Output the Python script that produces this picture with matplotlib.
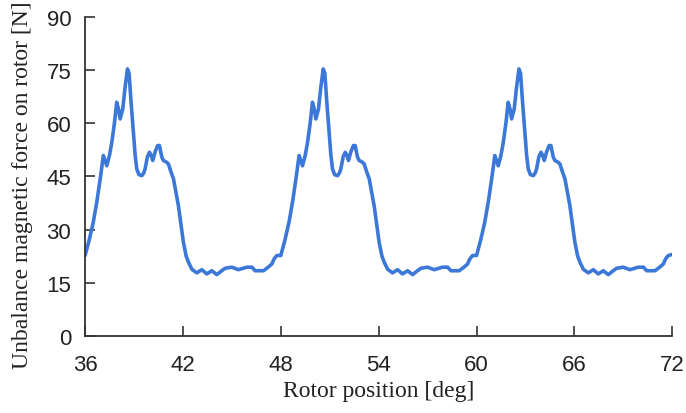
import matplotlib.pyplot as plt
import numpy as np

# one electrical period of the unbalance force, offsets in deg from period start
period_deg = [0.00, 0.25, 0.50, 0.72, 0.95, 1.12, 1.33, 1.50, 1.64, 1.80,
              1.94, 2.05, 2.15, 2.31, 2.45, 2.60, 2.70, 2.82, 2.96, 3.07,
              3.17, 3.30, 3.48, 3.60, 3.68, 3.82, 3.95, 4.05, 4.15, 4.30,
              4.45, 4.56, 4.70, 4.80, 5.00, 5.11, 5.25, 5.42, 5.72, 6.03,
              6.20, 6.34, 6.55, 6.85, 7.16, 7.46, 7.77, 8.08, 8.35, 8.59,
              9.00, 9.40, 9.92, 10.23, 10.43, 10.94, 11.20, 11.45, 11.60, 11.76]
period_force = [22.7, 27.0, 32.0, 37.8, 45.0, 50.9, 48.0, 51.0, 54.6, 60.0,
                65.9, 64.0, 61.2, 64.0, 70.0, 75.3, 74.0, 66.0, 57.5, 51.0,
                47.1, 45.5, 45.2, 46.0, 47.1, 50.5, 51.8, 51.0, 49.5, 52.0,
                53.7, 53.7, 50.5, 49.5, 49.0, 48.5, 46.5, 44.3, 36.8, 26.4,
                22.5, 20.8, 18.8, 17.8, 18.7, 17.5, 18.4, 17.3, 18.3, 19.1,
                19.4, 18.7, 19.4, 19.4, 18.4, 18.4, 19.3, 20.3, 21.8, 22.7]
start_deg = [36, 48, 60]
end_point = (72.0, 23.0)

x_ticks = [36, 42, 48, 54, 60, 66, 72]
y_ticks = [0, 15, 30, 45, 60, 75, 90]

pos = np.concatenate([np.array(period_deg) + s for s in start_deg] + [[end_point[0]]])
force = np.concatenate([period_force for s in start_deg] + [[end_point[1]]])

fig = plt.figure(figsize=(6.86, 4.14), dpi=100)
ax = fig.add_axes([0.124, 0.186, 0.856, 0.771])

ax.plot(pos, force, color='#3b78d8', linewidth=2.6,
        solid_joinstyle='round', solid_capstyle='round')

ax.set_xlim(36, 72)
ax.set_ylim(0, 90)
ax.set_xticks(x_ticks)
ax.set_yticks(y_ticks)

for lab in ax.get_xticklabels() + ax.get_yticklabels():
    lab.set_family('Liberation Sans')
    lab.set_fontsize(16)
    lab.set_color('#222222')

ax.tick_params(direction='in', length=7, width=1.2, color='#333333')
ax.tick_params(axis='x', pad=13)
ax.tick_params(axis='y', pad=10)
for side in ['top', 'right']:
    ax.spines[side].set_visible(False)
for side in ['left', 'bottom']:
    ax.spines[side].set_linewidth(1.3)
    ax.spines[side].set_color('#333333')

ax.set_xlabel('Rotor position [deg]', family='Liberation Serif', fontsize=17,
              color='#222222', va='top')
ax.set_ylabel('Unbalance magnetic force on rotor [N]', family='Liberation Serif',
              fontsize=17, color='#222222', va='bottom')
ax.xaxis.set_label_coords(0.5, -0.138)
ax.yaxis.set_label_coords(-0.089, 0.475)

fig.savefig('out.png', dpi=100)
